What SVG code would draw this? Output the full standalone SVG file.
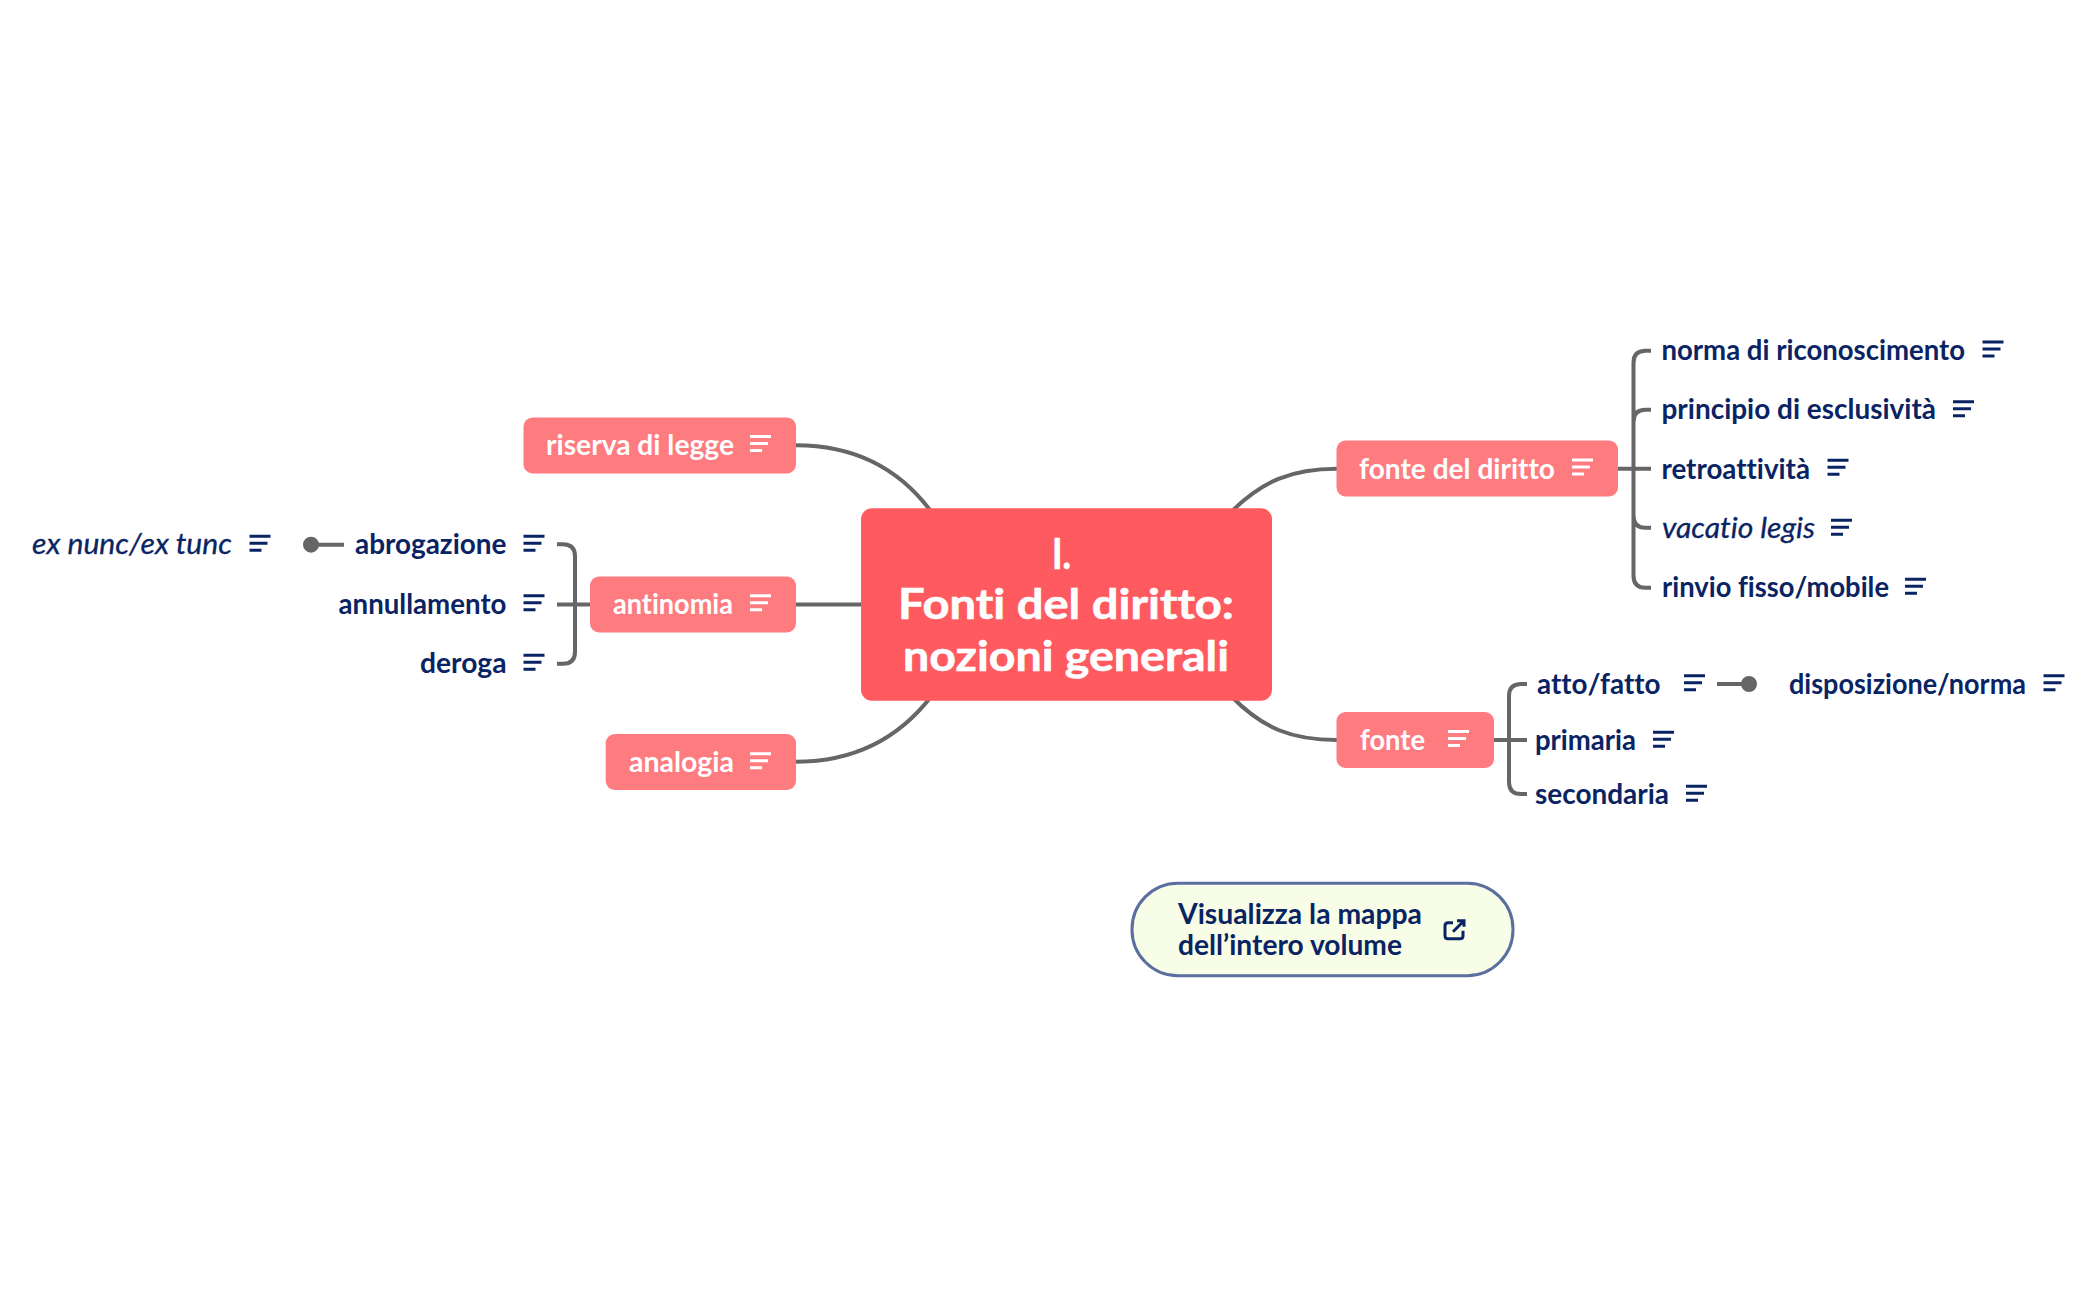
<svg xmlns="http://www.w3.org/2000/svg" width="2098" height="1300" viewBox="0 0 2098 1300">
<style>
text{font-family:"Lato","Noto Sans",sans-serif;font-weight:700;font-variant-ligatures:none}
.t{font-size:28px;fill:#0a2463}
.w{font-size:28px;fill:#fff}
.c{font-size:42px;fill:#fff;stroke:#fff;stroke-width:.6}
.i{font-style:italic;font-weight:400;stroke:#0a2463;stroke-width:.3}
.sub{fill:#fe7b80}
.con{fill:none;stroke:#666;stroke-width:4}
.ic{stroke:#0a2463;stroke-width:3;fill:none}
.icw{stroke:#fff;stroke-width:3;fill:none}
</style>
<defs>
<g id="notes"><path d="M0 0H21M0 7H18M0 14H12"/></g>
</defs>
<rect width="2098" height="1300" fill="#fff"/>
<g id="connectors" class="con">
<path d="M796 445.200C858 445.200 901 470.700 931.500 512"/>
<path d="M796 604.500H861"/>
<path d="M796 761.700C858 761.700 901 735.700 931.500 696"/>
<path d="M1337 468.700C1292 468.700 1263 480.700 1231 512"/>
<path d="M1337 740C1292 740 1263 728.700 1231 696"/>
<path d="M1618 468.700H1651M1651 350.700H1645.500Q1633.500 350.700 1633.500 362.700V575.700Q1633.500 587.700 1645.500 587.700H1651M1651 409.700H1645.500Q1633.500 409.700 1633.500 421.700M1633.500 515.700Q1633.500 527.700 1645.500 527.700H1651"/>
<path d="M1494 740H1527M1527 684H1521Q1509 684 1509 696V782Q1509 794 1521 794H1527"/>
<path d="M590 604.500H557M557 544.200H563Q575 544.200 575 556.200V651.700Q575 663.700 563 663.700H557"/>
<path d="M1717 684H1749"/>
<path d="M344 544.700H311"/>
<circle cx="1749" cy="684" r="7" fill="#666" stroke="#666" stroke-width="2"/>
<circle cx="311" cy="544.700" r="7" fill="#666" stroke="#666" stroke-width="2"/>
</g>
<g id="center">
<rect x="861" y="508.200" width="411" height="192.500" rx="11" fill="#ff5a5f"/>
<text class="c" x="1052" y="569" textLength="19" lengthAdjust="spacingAndGlyphs">I.</text>
<text class="c" x="898" y="619" textLength="336" lengthAdjust="spacingAndGlyphs">Fonti del diritto:</text>
<text class="c" x="903" y="671" textLength="326" lengthAdjust="spacingAndGlyphs">nozioni generali</text>
</g>
<g id="riserva">
<rect class="sub" x="523.500" y="417.500" width="272.500" height="56" rx="9"/>
<text class="w" x="546" y="454.500" textLength="188" lengthAdjust="spacingAndGlyphs">riserva di legge</text>
<use href="#notes" x="750" y="436.500" class="icw"/>
</g>
<g id="antinomia">
<rect class="sub" x="590" y="576.500" width="206" height="56" rx="9"/>
<text class="w" x="613" y="613.500" textLength="120" lengthAdjust="spacingAndGlyphs">antinomia</text>
<use href="#notes" x="750" y="595.700" class="icw"/>
</g>
<g id="analogia">
<rect class="sub" x="605.700" y="734" width="190.300" height="56" rx="9"/>
<text class="w" x="629" y="772" textLength="105" lengthAdjust="spacingAndGlyphs">analogia</text>
<use href="#notes" x="750" y="753.700" class="icw"/>
</g>
<g id="fonte-del-diritto">
<rect class="sub" x="1336.500" y="440.500" width="281.500" height="56" rx="9"/>
<text class="w" x="1359" y="478.500" textLength="196" lengthAdjust="spacingAndGlyphs">fonte del diritto</text>
<use href="#notes" x="1572" y="460" class="icw"/>
</g>
<g id="fonte">
<rect class="sub" x="1336.500" y="712" width="157.500" height="56" rx="9"/>
<text class="w" x="1360" y="750" textLength="65" lengthAdjust="spacingAndGlyphs">fonte</text>
<use href="#notes" x="1448" y="731.500" class="icw"/>
</g>
<g id="norma-di-riconoscimento">
<text class="t" x="1661.500" y="360" textLength="303.500" lengthAdjust="spacingAndGlyphs">norma di riconoscimento</text>
<use href="#notes" x="1982.500" y="342" class="ic"/>
</g>
<g id="principio-di-esclusivita">
<text class="t" x="1661.500" y="418.500" textLength="274.500" lengthAdjust="spacingAndGlyphs">principio di esclusività</text>
<use href="#notes" x="1953" y="401.700" class="ic"/>
</g>
<g id="retroattivita">
<text class="t" x="1661.500" y="478.500" textLength="148.500" lengthAdjust="spacingAndGlyphs">retroattività</text>
<use href="#notes" x="1827.500" y="460.200" class="ic"/>
</g>
<g id="vacatio-legis">
<text class="t i" x="1662" y="537.500" textLength="153" lengthAdjust="spacingAndGlyphs">vacatio legis</text>
<use href="#notes" x="1831" y="520.200" class="ic"/>
</g>
<g id="rinvio">
<text class="t" x="1662" y="596.500" textLength="227" lengthAdjust="spacingAndGlyphs">rinvio fisso/mobile</text>
<use href="#notes" x="1905" y="579.200" class="ic"/>
</g>
<g id="atto-fatto">
<text class="t" x="1537" y="693.500" textLength="123.500" lengthAdjust="spacingAndGlyphs">atto/fatto</text>
<use href="#notes" x="1684" y="675.700" class="ic"/>
</g>
<g id="disposizione-norma">
<text class="t" x="1789" y="693.500" textLength="237" lengthAdjust="spacingAndGlyphs">disposizione/norma</text>
<use href="#notes" x="2043.500" y="675.700" class="ic"/>
</g>
<g id="primaria">
<text class="t" x="1535" y="750" textLength="101" lengthAdjust="spacingAndGlyphs">primaria</text>
<use href="#notes" x="1653" y="732.200" class="ic"/>
</g>
<g id="secondaria">
<text class="t" x="1535" y="804" textLength="134" lengthAdjust="spacingAndGlyphs">secondaria</text>
<use href="#notes" x="1686" y="786.200" class="ic"/>
</g>
<g id="ex-nunc">
<text class="t i" x="32" y="554" textLength="200" lengthAdjust="spacingAndGlyphs">ex nunc/ex tunc</text>
<use href="#notes" x="249.500" y="536.200" class="ic"/>
</g>
<g id="abrogazione">
<text class="t" x="355" y="554" textLength="151.500" lengthAdjust="spacingAndGlyphs">abrogazione</text>
<use href="#notes" x="523.500" y="536.200" class="ic"/>
</g>
<g id="annullamento">
<text class="t" x="338.500" y="614" textLength="168" lengthAdjust="spacingAndGlyphs">annullamento</text>
<use href="#notes" x="523.500" y="595.700" class="ic"/>
</g>
<g id="deroga">
<text class="t" x="420" y="673" textLength="86.500" lengthAdjust="spacingAndGlyphs">deroga</text>
<use href="#notes" x="523.500" y="655.200" class="ic"/>
</g>
<g id="link">
<rect x="1132" y="883.200" width="381" height="92.500" rx="46" fill="#f7fde6" stroke="#5a6f9e" stroke-width="3"/>
<text class="t" x="1178" y="923.500" textLength="244" lengthAdjust="spacingAndGlyphs">Visualizza la mappa</text>
<text class="t" x="1178" y="954.500" textLength="224" lengthAdjust="spacingAndGlyphs">dell’intero volume</text>
<path d="M1453 922.700H1448Q1445 922.700 1445 925.700V935.700Q1445 938.700 1448 938.700H1460Q1463 938.700 1463 935.700V930.700M1453 931.700L1464 920.700M1457 920.700H1464V926.700" fill="none" stroke="#0a2463" stroke-width="3"/>
</g>
</svg>
